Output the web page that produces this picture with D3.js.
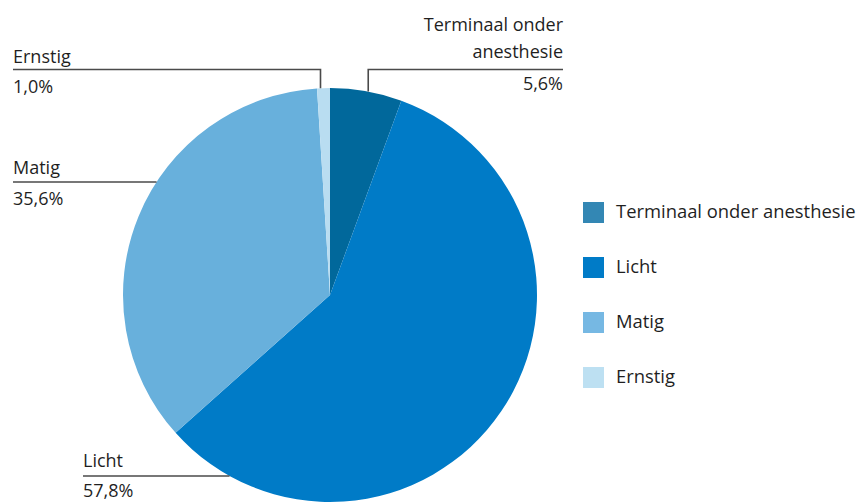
<!DOCTYPE html>
<html>
<head>
<meta charset="utf-8">
<script src="https://cdn.jsdelivr.net/npm/d3@7"></script>
<style>
  body { margin: 0; background: #fff; }
  svg text { font-family: "Open Sans", "Noto Sans", sans-serif; fill: #1f1f1f; }
</style>
</head>
<body>
<div id="chart"></div>
<script>
// data
const categories = ["Terminaal onder anesthesie", "Licht", "Matig", "Ernstig"];
const values = [5.6, 57.8, 35.6, 1.0];
const valueLabels = ["5,6%", "57,8%", "35,6%", "1,0%"];
const sliceColors = ["#01689b", "#007bc7", "#68b0dc", "#b9ddf1"];
const legendColors = ["#3387b4", "#007bc7", "#76b8e3", "#bde0f2"];

const width = 857, height = 503;
const cx = 330, cy = 295, r = 207;

const svg = d3.select("#chart")
    .append("svg")
    .attr("width", width)
    .attr("height", height);

const pie = d3.pie().sort(null).value(d => d);
const arcs = pie(values);
const arc = d3.arc().innerRadius(0).outerRadius(r);

const g = svg.append("g").attr("transform", `translate(${cx},${cy})`);

g.selectAll("path")
    .data(arcs)
    .join("path")
    .attr("d", arc)
    .attr("fill", (d, i) => sliceColors[i]);

// leader lines + labels
const lineColor = "#4a4a4a";
const fs = 18;

function midX(d) {
    const a = (d.startAngle + d.endAngle) / 2;
    return r * Math.sin(a);
}
function edgeXAtY(y, side) {
    const dy = y - cy;
    return cx + side * Math.sqrt(r * r - dy * dy);
}

const lab = svg.append("g");

// Terminaal (top right)
{
    const x = cx + midX(arcs[0]) + 2;
    const yTop = cy - Math.sqrt(r * r - (x - cx) * (x - cx));
    lab.append("path")
        .attr("d", `M${x},${yTop} V69.5 H563`)
        .attr("fill", "none").attr("stroke", lineColor).attr("stroke-width", 1.6);
    lab.append("text").attr("x", 563).attr("y", 31).attr("text-anchor", "end")
        .attr("font-size", fs).text("Terminaal onder");
    lab.append("text").attr("x", 563).attr("y", 58).attr("text-anchor", "end")
        .attr("font-size", fs).text("anesthesie");
    lab.append("text").attr("x", 563).attr("y", 90).attr("text-anchor", "end")
        .attr("font-size", fs).text(valueLabels[0]);
}

// Ernstig (top left)
{
    const x = cx + midX(arcs[3]) - 3;
    const yTop = cy - Math.sqrt(r * r - (x - cx) * (x - cx));
    lab.append("path")
        .attr("d", `M${x},${yTop} V69.5 H13`)
        .attr("fill", "none").attr("stroke", lineColor).attr("stroke-width", 1.6);
    lab.append("text").attr("x", 13).attr("y", 63).attr("font-size", fs).text(categories[3]);
    lab.append("text").attr("x", 13).attr("y", 93).attr("font-size", fs).text(valueLabels[3]);
}

// Matig (left)
{
    const y = 182;
    lab.append("line")
        .attr("x1", 13).attr("x2", edgeXAtY(y, -1)).attr("y1", y).attr("y2", y)
        .attr("stroke", lineColor).attr("stroke-width", 1.6);
    lab.append("text").attr("x", 13).attr("y", 174).attr("font-size", fs).text(categories[2]);
    lab.append("text").attr("x", 13).attr("y", 205).attr("font-size", fs).text(valueLabels[2]);
}

// Licht (bottom left)
{
    const y = 476;
    lab.append("line")
        .attr("x1", 83).attr("x2", edgeXAtY(y, -1)).attr("y1", y).attr("y2", y)
        .attr("stroke", lineColor).attr("stroke-width", 1.6);
    lab.append("text").attr("x", 83).attr("y", 467).attr("font-size", fs).text(categories[1]);
    lab.append("text").attr("x", 83).attr("y", 497).attr("font-size", fs).text(valueLabels[1]);
}

// legend
const legend = svg.append("g").attr("transform", "translate(583,202)");
const item = legend.selectAll("g")
    .data(categories)
    .join("g")
    .attr("transform", (d, i) => `translate(0,${i * 55})`);

item.append("rect")
    .attr("width", 21).attr("height", 21)
    .attr("fill", (d, i) => legendColors[i]);

item.append("text")
    .attr("x", 33).attr("y", 16)
    .attr("font-size", 18.4)
    .text(d => d);
</script>
</body>
</html>
